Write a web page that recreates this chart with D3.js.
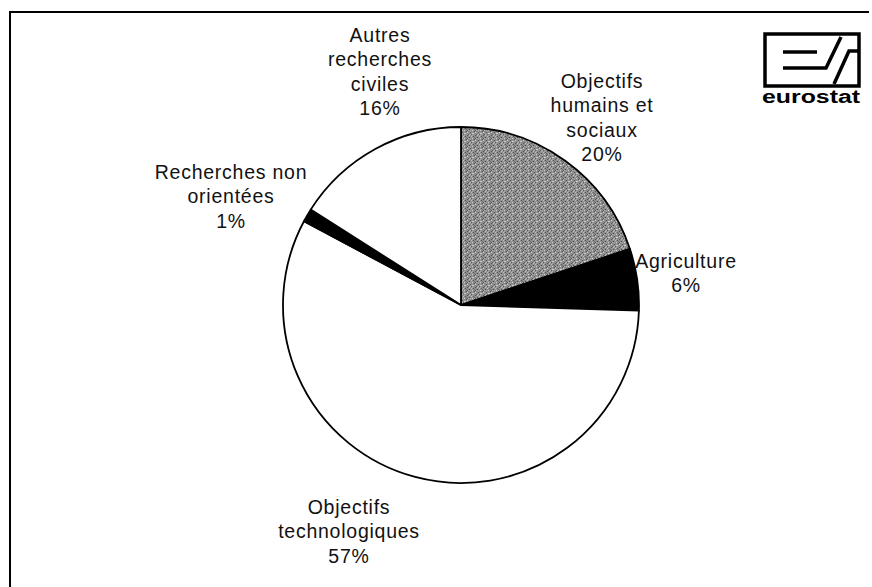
<!DOCTYPE html>
<html><head><meta charset="utf-8">
<script src="https://cdn.jsdelivr.net/npm/d3@7"></script>
<style>
html,body{margin:0;padding:0;background:#fff;}
svg{display:block;}
text{font-family:"Liberation Sans",Arial,sans-serif;}
</style></head>
<body>
<svg id="chart" width="872" height="587"></svg>
<script>
const categories = ["Objectifs humains et sociaux", "Agriculture", "Objectifs technologiques", "Recherches non orientées", "Autres recherches civiles"];
const values = [19.9, 5.6, 57.3, 1.2, 16.0];
const labelLines = [["Objectifs", "humains et", "sociaux"], ["Agriculture"], ["Objectifs", "technologiques"], ["Recherches non", "orientées"], ["Autres", "recherches", "civiles"]];
const percentLabels = ["20%", "6%", "57%", "1%", "16%"];
const fills = ["url(#grain)", "#000", "#fff", "#000", "#fff"];
const labelPos = [[602, 81], [686, 261], [349, 507], [231, 172], [380, 35]];

const svg = d3.select("#chart");
const defs = svg.append("defs");
const pat = defs.append("pattern").attr("id", "grain").attr("patternUnits", "userSpaceOnUse").attr("width", 8).attr("height", 8);
pat.append("rect").attr("width", 8).attr("height", 8).attr("fill", "#8e8e8e");
[[0,0,"#4a4a4a"],[3,1,"#d0d0d0"],[1,3,"#5a5a5a"],[4,4,"#c6c6c6"],[2,5,"#666"],[5,2,"#505050"],[0,6,"#bcbcbc"],
 [6,6,"#555"],[7,1,"#b0b0b0"],[6,3,"#d4d4d4"],[2,7,"#c0c0c0"],[4,7,"#5c5c5c"],[1,1,"#aaa"],[7,5,"#606060"],[3,4,"#d8d8d8"],
 [5,0,"#6a6a6a"],[1,5,"#b8b8b8"],[6,1,"#585858"],[3,6,"#a8a8a8"]].forEach(([x,y,c]) =>
  pat.append("rect").attr("x", x).attr("y", y).attr("width", 1).attr("height", 1).attr("fill", c));

// frame
svg.append("path").attr("d", "M10,587 L10,12 L869,12").attr("fill", "none").attr("stroke", "#000").attr("stroke-width", 2);

const cx = 461, cy = 305, r = 178;
const pie = d3.pie().sort(null).value(d => d)(values);
const arc = d3.arc().innerRadius(0).outerRadius(r);
const g = svg.append("g").attr("transform", `translate(${cx},${cy})`);
g.selectAll("path").data(pie).join("path")
  .attr("d", arc)
  .attr("fill", (d, i) => fills[i])
  .attr("stroke", "#000").attr("stroke-width", 1.8).attr("stroke-linejoin", "round");

// labels
const lh = 24.5;
categories.forEach((c, i) => {
  const lines = labelLines[i].concat([percentLabels[i]]);
  const t = svg.append("text").attr("text-anchor", "middle").attr("font-size", 19.5)
    .attr("letter-spacing", 0.75).attr("fill", "#111");
  lines.forEach((l, k) => {
    t.append("tspan").attr("x", labelPos[i][0]).attr("y", labelPos[i][1] + k * lh).attr("dy", "0.35em").text(l);
  });
});

// eurostat logo
const lg = svg.append("g");
lg.append("rect").attr("x", 765).attr("y", 34).attr("width", 94).attr("height", 52).attr("fill", "none").attr("stroke", "#000").attr("stroke-width", 3.5);
lg.append("path").attr("d", "M783,52 L817,52").attr("stroke", "#000").attr("stroke-width", 3.5);
lg.append("path").attr("d", "M783,68 L826,68 L841,37").attr("fill", "none").attr("stroke", "#000").attr("stroke-width", 3.5);
lg.append("path").attr("d", "M834,84 L849,51 L859,51").attr("fill", "none").attr("stroke", "#000").attr("stroke-width", 3.5);
lg.append("text").attr("x", 762).attr("y", 103).attr("font-size", 18).attr("font-weight", "bold")
  .attr("textLength", 98).attr("lengthAdjust", "spacingAndGlyphs").text("eurostat");
</script>
</body></html>
